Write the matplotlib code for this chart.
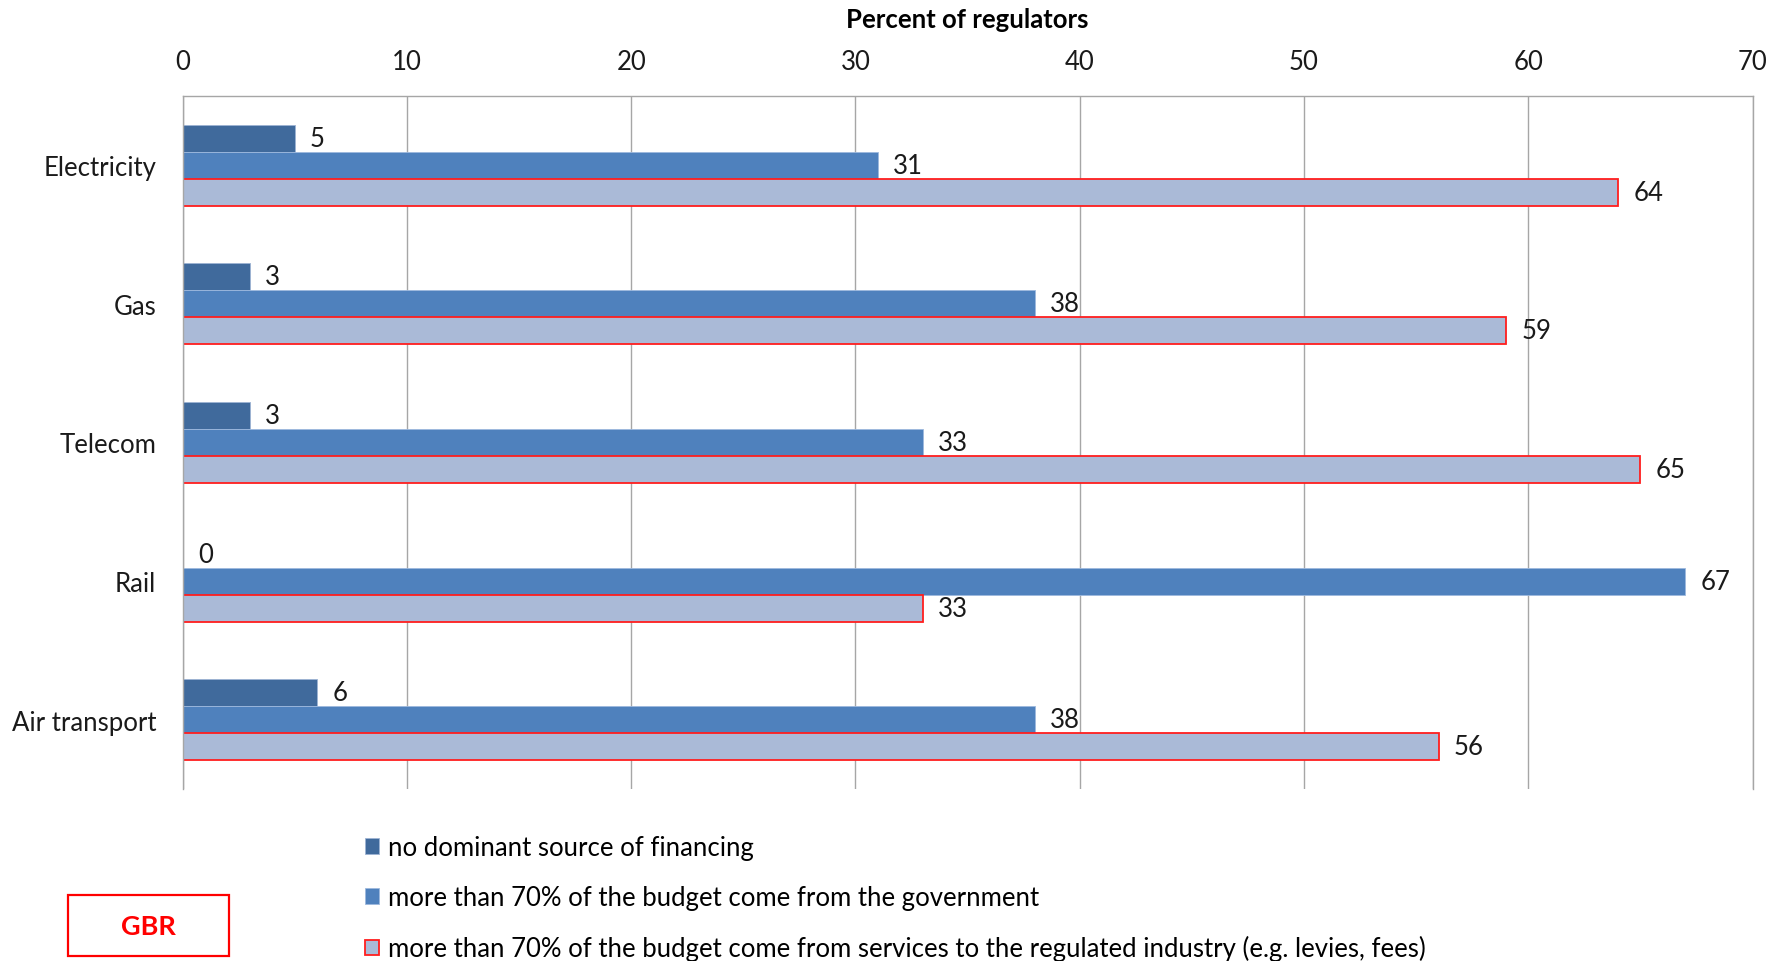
import matplotlib
matplotlib.use('Agg')
import matplotlib.pyplot as plt
import matplotlib.patches as mpatches
import numpy as np

plt.rcParams['font.family'] = ['Lato', 'DejaVu Sans']

# Доли регуляторов по источникам финансирования
sectors = ['Electricity', 'Gas', 'Telecom', 'Rail', 'Air transport']
no_dominant = [5, 3, 3, 0, 6]
government = [31, 38, 33, 67, 38]
industry = [64, 59, 65, 33, 56]

series_labels = [
    'no dominant source of financing',
    'more than 70% of the budget come from the government',
    'more than 70% of the budget come from services to the regulated industry (e.g. levies, fees)',
]
x_ticks = [0, 10, 20, 30, 40, 50, 60, 70]

GRID = '#A6A6A6'
FS = 18.5

fig = plt.figure(figsize=(17.88, 9.62), dpi=100)
ax = fig.add_axes([0.1021, 0.1788, 0.9802 - 0.1021, 0.8992 - 0.1788])

y = np.arange(len(sectors))
h = 0.195

b1 = ax.barh(y - h, no_dominant, height=h, color='#406A9C',
             edgecolor='#9DB3D4', linewidth=0.6, label=series_labels[0])
b2 = ax.barh(y, government, height=h, color='#4F81BD',
             edgecolor='#9DB9DE', linewidth=0.6, label=series_labels[1])
b3 = ax.barh(y + h, industry, height=h, color='#AABAD7',
             edgecolor='#FF1E1E', linewidth=1.3, label=series_labels[2])

for bars in (b1, b2, b3):
    ax.bar_label(bars, labels=[str(v) for v in bars.datavalues],
                 padding=11, fontsize=FS, color='#1A1A1A')

ax.set_xlim(0, 70)
ax.set_ylim(len(sectors) - 0.5, -0.5)
ax.set_xticks(x_ticks)
ax.set_yticks(y)
ax.set_yticklabels(sectors)

ax.xaxis.tick_top()
ax.xaxis.set_label_position('top')
ax.set_xlabel('Percent of regulators', fontsize=FS, fontweight='bold', labelpad=16)
ax.tick_params(axis='x', length=0, pad=16, labelsize=FS, colors='#1A1A1A')
ax.tick_params(axis='y', length=0, pad=19, labelsize=FS, colors='#1A1A1A')

ax.grid(axis='x', color=GRID, linewidth=1.0)
ax.set_axisbelow(True)
for side in ('top', 'right', 'left'):
    ax.spines[side].set_color(GRID)
    ax.spines[side].set_linewidth(1.0)
ax.spines['bottom'].set_visible(False)

fig.legend(handles=[b1, b2, b3], loc='upper left',
           bbox_to_anchor=(0.204, 0.131), frameon=False, fontsize=FS,
           handlelength=0.55, handleheight=0.55, handletextpad=0.35,
           labelspacing=0.98, borderaxespad=0, borderpad=0)

# рамка с кодом страны
fig.patches.append(mpatches.Rectangle((68 / 1788, 1 - 957 / 962), 161 / 1788, 61 / 962,
                                      transform=fig.transFigure, fill=False,
                                      edgecolor='#FF0000', linewidth=1.6))
fig.text(148 / 1788, 1 - 927 / 962, 'GBR', color='#FF0000', fontsize=FS + 1,
         fontweight='bold', ha='center', va='center')

fig.savefig('out.png', dpi=100)
